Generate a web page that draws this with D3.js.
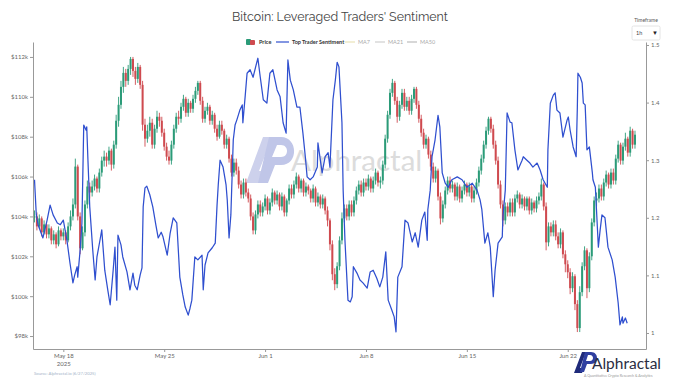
<!DOCTYPE html>
<html><head><meta charset="utf-8">
<script src="https://cdn.jsdelivr.net/npm/d3@7"></script>
<style>body{margin:0;background:#fff}svg{display:block}</style></head>
<body><svg id="c" width="680" height="383"></svg>
<script>
// ---------------- DATA ----------------
const baseTime = "2025-05-16T00:00:00Z";
const priceStepHours = 4;
// BTC 4h candles, $k; open = previous close
const priceClose = [
104.0,103.5,103.9,103.2,103.6,103.1,
103.4,102.8,103.1,102.6,103.3,103.0,
103.2,102.8,103.5,104.0,104.6,106.5,
104.0,102.4,103.2,104.6,105.5,105.2,
105.5,105.9,105.4,106.2,106.8,107.0,
106.8,107.3,106.6,107.6,108.8,109.6,
110.5,111.2,110.8,111.4,111.9,111.3,
110.9,111.5,110.6,108.6,107.9,108.3,
108.7,107.6,108.4,109.0,108.8,108.2,
107.5,107.0,106.8,107.6,108.4,109.0,
108.9,109.5,109.9,109.2,109.7,109.4,
109.9,110.3,110.7,109.8,108.9,109.3,
109.5,108.8,109.1,108.4,108.0,108.6,
108.3,107.6,107.9,106.9,106.2,106.7,
106.3,105.6,105.1,105.7,105.2,104.9,
104.0,103.3,104.1,104.6,104.2,104.5,
104.9,104.3,104.7,105.2,104.8,105.1,
104.5,105.0,104.2,104.8,105.4,105.1,
105.6,106.0,105.4,105.8,105.2,105.5,
105.3,104.9,105.4,104.7,105.0,104.6,
104.9,104.3,103.8,102.6,101.1,100.6,
101.5,102.8,103.9,104.4,104.0,104.6,
104.2,104.8,105.3,105.6,105.2,105.7,
105.5,105.9,105.4,105.8,106.2,105.7,
105.8,106.6,107.9,109.1,110.2,110.7,
109.8,109.0,109.6,110.2,109.5,109.8,
109.3,109.9,110.4,109.6,108.9,108.2,
107.6,107.9,107.1,106.5,105.9,106.3,
105.0,103.9,104.6,105.3,105.8,105.4,
105.6,105.0,105.5,104.9,105.3,105.6,
105.2,105.5,104.9,105.3,105.7,106.3,
106.9,107.6,108.3,108.9,108.4,107.6,
106.8,105.6,104.6,103.8,104.5,104.2,
104.7,104.2,104.9,105.1,104.6,104.9,
104.5,104.9,104.3,104.7,104.4,104.8,
105.0,105.6,104.5,102.7,103.5,103.2,
103.6,103.0,102.6,103.2,102.1,101.6,
101.2,100.4,101.0,99.6,98.4,100.2,
101.5,102.3,100.4,102.0,103.7,104.8,
104.9,105.4,105.0,105.7,106.1,105.6,
106.2,105.8,106.9,107.6,106.8,107.5,
107.9,107.2,108.3,107.6,108.1
];
const priceHigh = [
104.3,104.2,104.1,104.0,103.8,103.7,
103.6,103.5,103.3,103.2,103.5,103.4,
103.4,103.3,103.7,104.3,104.9,106.9,
106.6,104.2,103.5,104.8,105.8,105.7,
105.8,106.1,106.0,106.4,107.0,107.3,
107.2,107.5,107.4,107.8,109.1,110.0,
110.8,111.5,111.4,111.6,112.0,112.0,
111.5,111.7,111.6,110.8,108.9,108.6,
109.0,108.9,108.6,109.3,109.2,109.0,
108.4,107.7,107.3,107.8,108.6,109.2,
109.3,109.7,110.1,110.0,109.9,109.8,
110.1,110.5,110.8,110.8,110.0,109.5,
109.7,109.6,109.3,109.2,108.6,108.8,
108.8,108.4,108.1,108.0,107.1,106.9,
106.9,106.5,105.8,105.9,105.9,105.4,
105.1,104.2,104.3,104.8,104.8,104.7,
105.1,105.0,104.9,105.4,105.3,105.3,
105.2,105.2,105.1,104.9,105.6,105.6,
105.8,106.2,106.1,105.9,105.9,105.7,
105.6,105.4,105.6,105.5,105.2,105.1,
105.1,105.0,104.5,103.9,102.8,101.4,
101.7,103.0,104.2,104.6,104.6,104.8,
104.8,105.0,105.5,105.8,105.8,105.9,
105.9,106.1,106.0,106.0,106.4,106.3,
106.0,106.8,108.1,109.3,110.4,110.9,
110.8,110.0,109.8,110.4,110.4,110.0,
110.0,110.1,110.5,110.5,109.8,109.1,
108.4,108.1,108.0,107.3,106.7,106.5,
106.4,105.2,104.8,105.5,106.0,106.0,
105.8,105.7,105.7,105.6,105.5,105.8,
105.7,105.7,105.6,105.5,105.9,106.5,
107.1,107.8,108.5,109.0,109.0,108.6,
107.8,107.0,105.8,104.8,104.7,104.7,
104.9,104.9,105.1,105.3,105.2,105.1,
105.0,105.0,105.0,104.9,104.8,105.0,
105.2,105.9,105.7,104.7,103.7,103.7,
103.8,103.8,103.2,103.4,103.3,102.3,
101.8,101.4,101.2,101.1,99.8,100.5,
101.7,102.5,102.4,102.2,103.9,105.0,
105.2,105.6,105.6,105.9,106.3,106.2,
106.4,106.4,107.1,107.8,107.7,107.7,
108.2,108.0,108.5,108.4,108.3
];
const priceLow = [
103.7,103.3,103.4,103.0,103.1,102.9,
102.9,102.6,102.6,102.4,102.5,102.8,
102.8,102.6,102.7,103.3,103.8,104.4,
103.8,102.1,102.3,103.0,104.4,104.9,
105.0,105.3,105.2,105.2,106.0,106.5,
106.5,106.6,106.3,106.4,107.4,108.5,
109.4,110.2,110.5,110.6,111.1,111.0,
110.6,110.7,110.4,108.3,107.5,107.7,
108.0,107.4,107.4,108.2,108.5,108.0,
107.3,106.8,106.6,106.6,107.4,108.2,
108.6,108.7,109.3,109.0,109.0,109.2,
109.2,109.7,110.1,109.6,108.7,108.7,
109.1,108.6,108.6,108.2,107.8,107.9,
108.1,107.4,107.4,106.7,106.0,106.0,
106.1,105.4,104.9,104.9,105.0,104.7,
103.8,103.1,103.1,103.9,104.0,104.0,
104.3,104.1,104.1,104.5,104.6,104.6,
104.3,104.3,104.0,104.0,104.6,104.9,
104.9,105.4,105.2,105.2,105.0,105.0,
105.1,104.7,104.7,104.5,104.5,104.4,
104.4,104.1,103.5,102.3,100.8,100.3,
100.4,101.3,102.6,103.7,103.8,103.8,
104.0,104.0,104.6,105.1,105.0,105.0,
105.3,105.3,105.2,105.2,105.6,105.5,
105.4,105.6,106.4,107.7,108.9,110.0,
109.6,108.7,108.8,109.4,109.3,109.3,
109.1,109.1,109.7,109.4,108.7,108.0,
107.4,107.4,106.9,106.3,105.7,105.7,
104.8,103.6,103.7,104.4,105.1,105.2,
105.2,104.8,104.8,104.7,104.7,105.1,
105.0,105.0,104.7,104.7,105.1,105.5,
106.1,106.7,107.4,108.1,108.2,107.4,
106.6,105.4,104.4,103.5,103.6,104.0,
104.0,104.0,104.0,104.7,104.4,104.4,
104.3,104.3,104.1,104.1,104.2,104.2,
104.6,104.8,104.3,102.3,102.5,103.0,
103.0,102.8,102.4,102.4,101.9,101.2,
100.9,100.1,100.2,99.3,98.2,98.2,
100.0,101.3,99.9,100.2,101.8,103.5,
104.5,104.7,104.8,104.8,105.5,105.4,
105.4,105.6,105.6,106.7,106.6,106.6,
107.3,107.0,107.0,107.4,107.4
];
// Top Trader Sentiment: hours after baseTime, and value
const sentHours = [0,3,6,14,21,26,31,38,43,48,54,59,64,67,71,72,76,79,82,86,87,89,92,97,101,104,109,112,117,122,126,131,134,137,139,144,147,154,159,164,167,171,176,179,181,184,187,192,197,202,206,211,214,221,226,231,237,242,247,251,256,259,262,267,272,279,281,284,289,296,301,304,306,309,314,319,321,324,327,331,334,337,342,346,347,351,354,359,364,369,372,376,381,387,392,397,404,409,414,419,422,426,431,437,442,447,451,454,459,464,471,472,479,484,489,492,497,501,504,507,512,514,517,522,526,529,531,537,542,547,554,559,564,570,575,580,585,589,595,599,602,605,612,617,622,629,634,639,645,650,654,655,659,662,667,672,675,679,684,689,695,704,712,720,729,737,742,745,750,755,759,764,767,772,779,780,784,787,792,795,800,805,812,814,820,825,830,837,842,847,854,855,859,864,867,870,875,880,887,889,892,895,897,902,904,905,909,912,914,917,920,924,929,930,934,939,942,945,950,955,962,967,972,975,979,980,984,987];
const sentValue = [1.266,1.205,1.188,1.165,1.196,1.222,1.205,1.191,1.188,1.196,1.161,1.122,1.087,1.101,1.115,1.097,1.144,1.191,1.361,1.352,1.358,1.300,1.219,1.144,1.092,1.132,1.161,1.179,1.109,1.075,1.049,1.109,1.149,1.057,1.170,1.153,1.132,1.106,1.075,1.104,1.083,1.075,1.101,1.113,1.219,1.252,1.255,1.240,1.219,1.188,1.165,1.175,1.167,1.135,1.174,1.200,1.191,1.097,1.066,1.045,1.031,1.043,1.057,1.132,1.127,1.135,1.075,1.118,1.139,1.148,1.156,1.222,1.257,1.300,1.288,1.257,1.231,1.165,1.205,1.335,1.361,1.370,1.387,1.396,1.365,1.413,1.451,1.457,1.444,1.465,1.477,1.444,1.405,1.399,1.451,1.457,1.422,1.410,1.365,1.347,1.474,1.439,1.422,1.392,1.392,1.347,1.306,1.271,1.266,1.271,1.288,1.330,1.278,1.306,1.313,1.288,1.405,1.439,1.470,1.462,1.365,1.248,1.161,1.057,1.054,1.063,1.115,1.104,1.092,1.087,1.078,1.106,1.109,1.095,1.080,1.097,1.141,1.057,1.040,1.028,1.002,1.097,1.115,1.196,1.191,1.158,1.174,1.149,1.196,1.210,1.161,1.214,1.248,1.306,1.335,1.378,1.358,1.278,1.260,1.253,1.266,1.271,1.266,1.253,1.260,1.248,1.231,1.214,1.156,1.174,1.149,1.063,1.109,1.156,1.167,1.201,1.248,1.382,1.366,1.365,1.318,1.283,1.300,1.306,1.300,1.295,1.288,1.295,1.283,1.266,1.253,1.318,1.399,1.413,1.417,1.387,1.382,1.340,1.370,1.375,1.352,1.335,1.323,1.306,1.392,1.451,1.444,1.434,1.399,1.396,1.318,1.323,1.278,1.266,1.253,1.149,1.179,1.205,1.200,1.149,1.127,1.097,1.052,1.014,1.028,1.017,1.026,1.017];

const priceTicks = [98,100,102,104,106,108,110,112];
const priceTickLabels = ["$98k","$100k","$102k","$104k","$106k","$108k","$110k","$112k"];
const sentTicks = [1,1.1,1.2,1.3,1.4,1.5];
const sentTickLabels = ["1","1.1","1.2","1.3","1.4","1.5"];
const dateTicks = ["2025-05-18","2025-05-25","2025-06-01","2025-06-08","2025-06-15","2025-06-22"];
const dateTickLabels = [["May 18","2025"],["May 25"],["Jun 1"],["Jun 8"],["Jun 15"],["Jun 22"]];
const legendLabels = ["Price","Top Trader Sentiment","MA7","MA21","MA50"];
const titleText = "Bitcoin: Leveraged Traders' Sentiment";

// ---------------- CHART ----------------
const svg = d3.select("#c");
const W = 680, H = 383;
const L = 33, R = 646, T = 42, B = 349;
svg.append("rect").attr("width",W).attr("height",H).attr("fill","#fff");

const t0 = new Date(baseTime).getTime();
const HOUR = 3600e3;
const x = d3.scaleUtc().domain([new Date("2025-05-15T21:30:00Z"), new Date("2025-06-27T10:20:00Z")]).range([L,R]);
const yP = d3.scaleLinear().domain([97.35,112.75]).range([B,T]);
const yS = d3.scaleLinear().domain([0.9722,1.5052]).range([B,T]);

const font = "Lato, 'Open Sans', sans-serif";

// title
svg.append("text").attr("x",340).attr("y",21).attr("text-anchor","middle")
  .attr("font-family","Raleway, Lato, sans-serif").attr("font-size",12.4).attr("fill","#444")
  .text(titleText);

// watermark
const wm = svg.append("g");
wm.append("path").attr("d","M246,183 L263,137 L272,137 L266,153 L259,171 L264,171 L260,183 Z").attr("fill","#cdd1ec");
wm.append("path").attr("d","M269,137 L281,137 C298,137 299,165 281,165 L275,165 L268,183 L258,183 Z M277,145 L272,157 L281,157 C289,157 289,145 281,145 Z").attr("fill","#c0c6e8");
svg.append("text").attr("x",291).attr("y",171).attr("font-family",font).attr("font-size",29.5)
  .attr("fill","#dcdcdc").text("Alphractal");

// candles
const candles = priceClose.map((c,i)=>({t:new Date(t0+i*priceStepHours*HOUR), o: i===0? c : priceClose[i-1], c, h:priceHigh[i], l:priceLow[i]}));
const cg = svg.append("g");
cg.selectAll("line").data(candles).join("line")
  .attr("x1",d=>x(d.t)).attr("x2",d=>x(d.t))
  .attr("y1",d=>yP(d.h)).attr("y2",d=>yP(d.l))
  .attr("stroke",d=>d.c>=d.o?"#2b9b78":"#cf4a4f").attr("stroke-width",0.9);
cg.selectAll("rect").data(candles).join("rect")
  .attr("x",d=>x(d.t)-1).attr("width",2)
  .attr("y",d=>yP(Math.max(d.o,d.c)))
  .attr("height",d=>Math.max(1,Math.abs(yP(d.o)-yP(d.c))))
  .attr("fill",d=>d.c>=d.o?"#2b9b78":"#cf4a4f");

// sentiment line
const sent = sentHours.map((h,i)=>({t:new Date(t0+h*HOUR), v:sentValue[i]}));
svg.append("path").datum(sent)
  .attr("d",d3.line().x(d=>x(d.t)).y(d=>yS(d.v)))
  .attr("fill","none").attr("stroke","#2f4fcf").attr("stroke-width",1.25).attr("stroke-linejoin","round");

// axes
function styleAxis(g){
  g.selectAll(".domain").attr("stroke","#999").attr("stroke-width",1);
  g.selectAll(".tick line").attr("stroke","#999");
  g.selectAll("text").attr("font-family",font).attr("font-size",6).attr("fill","#666");
}
const ax1 = svg.append("g").attr("transform",`translate(${L},0)`)
  .call(d3.axisLeft(yP).tickValues(priceTicks).tickFormat((d,i)=>priceTickLabels[i]).tickSize(3).tickSizeOuter(0).tickPadding(2));
styleAxis(ax1);
const ax2 = svg.append("g").attr("transform",`translate(${R},0)`)
  .call(d3.axisRight(yS).tickValues(sentTicks).tickFormat((d,i)=>sentTickLabels[i]).tickSize(3).tickSizeOuter(0).tickPadding(2));
styleAxis(ax2);
const ax3 = svg.append("g").attr("transform",`translate(0,${B})`)
  .call(d3.axisBottom(x).tickValues(dateTicks.map(d=>new Date(d+"T00:00:00Z"))).tickFormat("").tickSize(3).tickSizeOuter(0));
styleAxis(ax3);
ax3.selectAll(".tick").each(function(d,i){
  const g = d3.select(this);
  dateTickLabels[i].forEach((s,j)=>{
    g.append("text").attr("y",9+j*7.5).attr("text-anchor","middle").attr("font-family",font)
      .attr("font-size",6).attr("fill","#666").text(s);
  });
});

// legend
const lg = svg.append("g").attr("font-family",font).attr("font-size",5.5);
lg.append("rect").attr("x",246).attr("y",39).attr("width",5).attr("height",6).attr("rx",1).attr("fill","#2b9b78");
lg.append("rect").attr("x",250).attr("y",40).attr("width",5).attr("height",5).attr("rx",1).attr("fill","#cf4a4f");
lg.append("text").attr("x",259).attr("y",44).attr("fill","#333").attr("font-weight","bold").text(legendLabels[0]);
lg.append("line").attr("x1",276).attr("x2",289).attr("y1",42).attr("y2",42).attr("stroke","#2f4fcf").attr("stroke-width",1.2);
lg.append("text").attr("x",292).attr("y",44).attr("fill","#333").attr("font-weight","bold").text(legendLabels[1]);
const maCols = ["#e9e2b8","#cfcfcf","#bdbdbd"];
const maX = [345,375,407];
[2,3,4].forEach((k,j)=>{
  lg.append("line").attr("x1",maX[j]).attr("x2",maX[j]+10).attr("y1",42).attr("y2",42).attr("stroke",maCols[j]).attr("stroke-width",1.2);
  lg.append("text").attr("x",maX[j]+13).attr("y",44).attr("fill","#aaa").text(legendLabels[k]);
});

// timeframe selector
svg.append("text").attr("x",646).attr("y",22).attr("text-anchor","middle").attr("font-family",font)
  .attr("font-size",5).attr("fill","#555").text("Timeframe");
svg.append("rect").attr("x",632).attr("y",26).attr("width",28).attr("height",14).attr("rx",1.5)
  .attr("fill","#fff").attr("stroke","#ddd").attr("stroke-width",0.8);
svg.append("text").attr("x",636).attr("y",35).attr("font-family",font).attr("font-size",5.5).attr("fill","#444").text("1h");
svg.append("text").attr("x",652).attr("y",35).attr("font-family",font).attr("font-size",6).attr("fill","#222").text("▼");

// source note
svg.append("text").attr("x",34).attr("y",375).attr("font-family",font).attr("font-size",4.2)
  .attr("fill","#9fb3c8").text("Source: Alphractal.io (6/27/2025)");

// bottom-right logo
const lo = svg.append("g");
lo.append("path").attr("d","M574,373 L582,352 L586,352 L580,368 L584,368 L582,373 Z").attr("fill","#1f2a7a");
lo.append("path").attr("d","M585,352 L591,352 C599,352 599,364 591,364 L587,364 L584,372 L580,372 Z M588,355 L586,361 L590,361 C594,361 594,355 590,355 Z").attr("fill","#2f3fa0");
lo.append("text").attr("x",592).attr("y",369).attr("font-family",font).attr("font-size",15.5).attr("fill","#2b2d42").text("Alphractal");
lo.append("text").attr("x",584).attr("y",377).attr("font-family",font).attr("font-size",3.6).attr("fill","#999").text("A Quantitative Crypto Research & Analytics");
</script></body></html>
